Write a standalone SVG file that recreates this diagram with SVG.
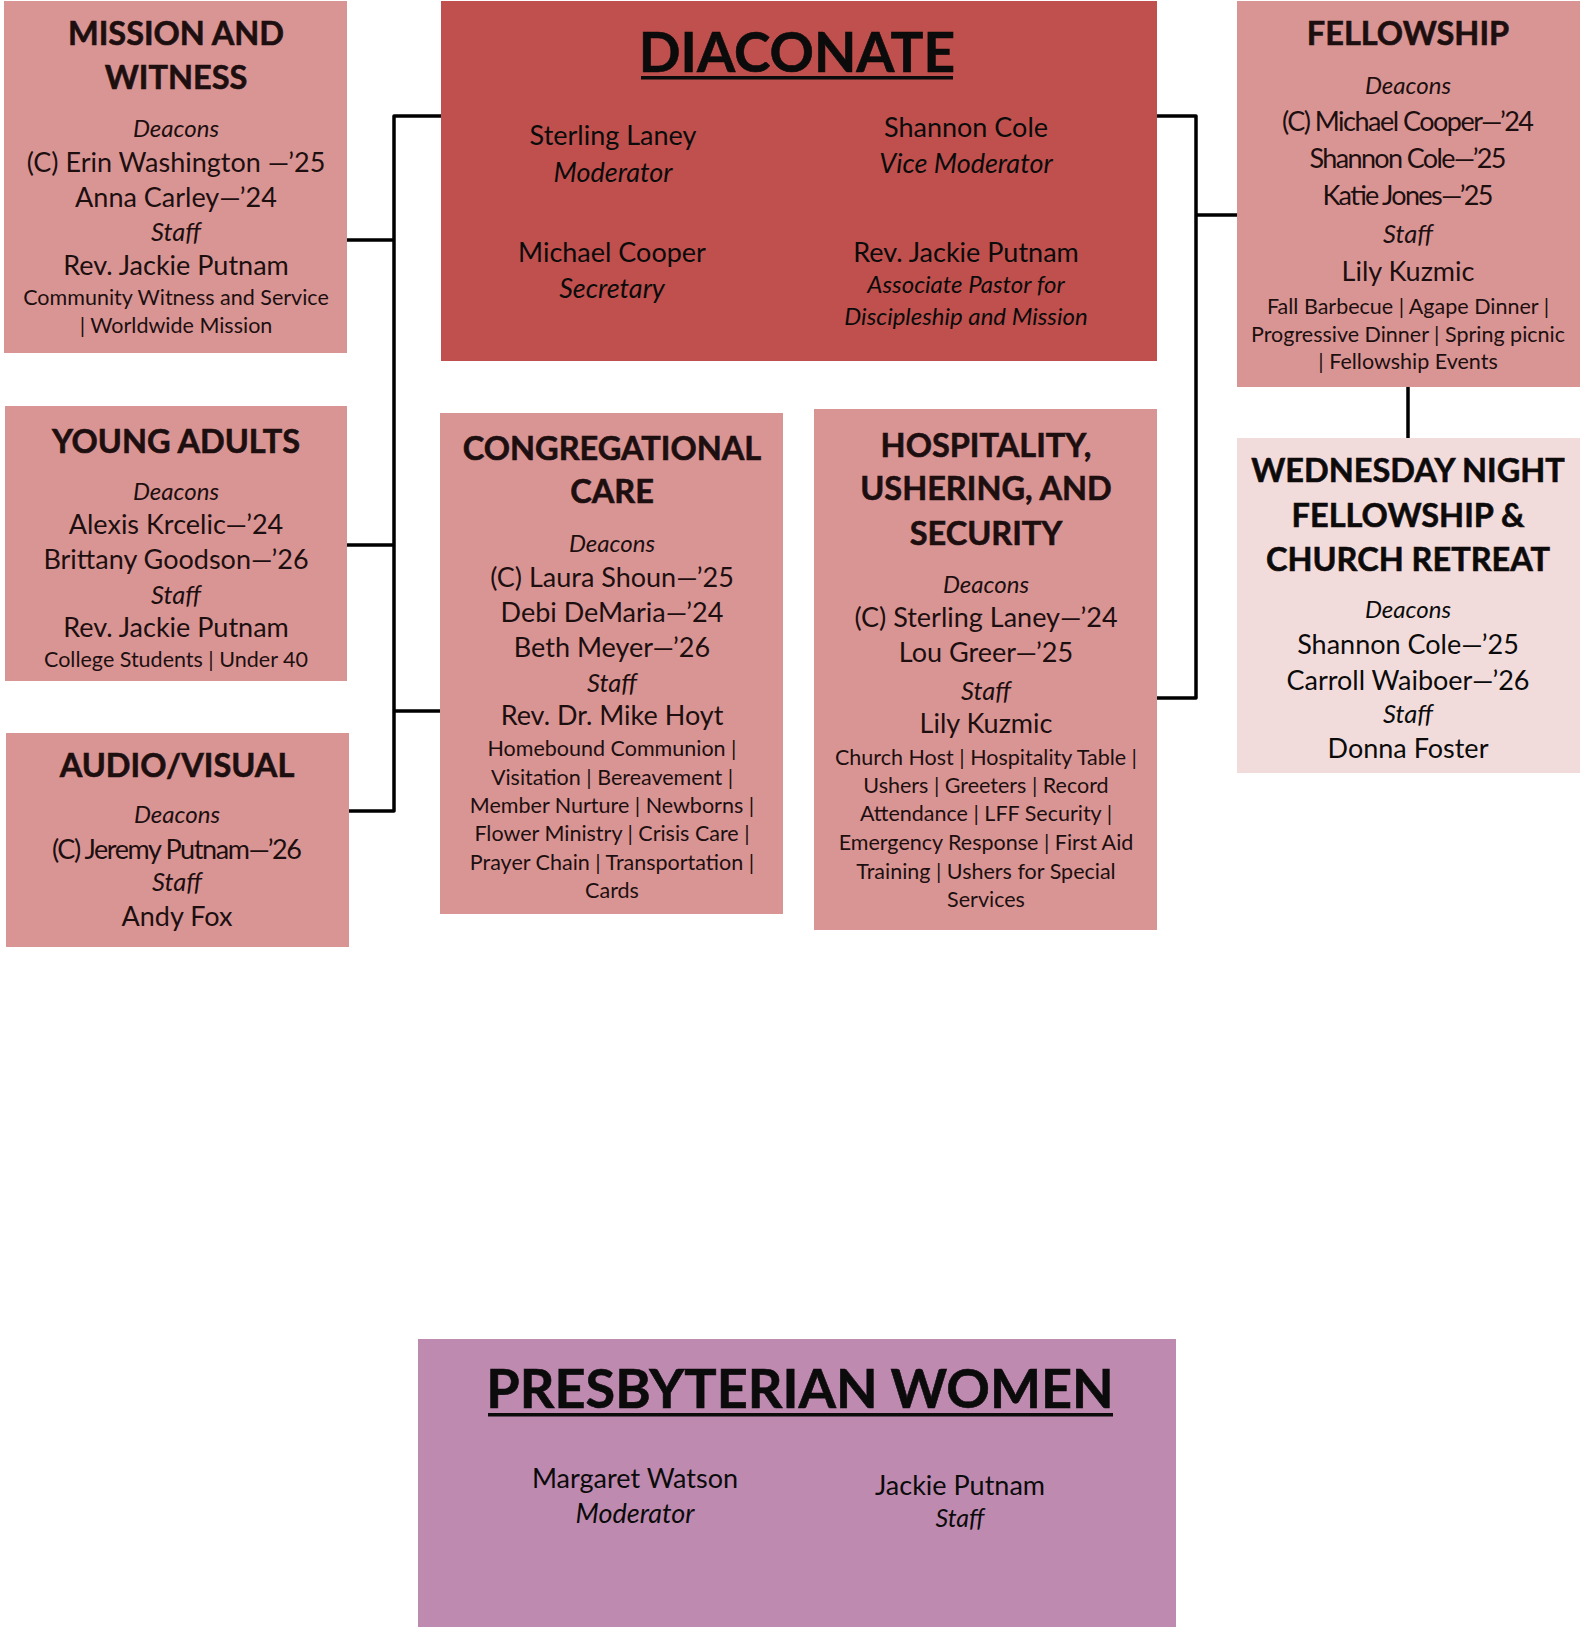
<svg xmlns="http://www.w3.org/2000/svg" width="1580" height="1627" viewBox="0 0 1580 1627">
<style>
text{font-family:Lato,"Open Sans","Liberation Sans",sans-serif;text-anchor:middle;fill:#1d0f10}
.t{font-weight:bold;font-size:32.5px;stroke:#1d0f10;stroke-width:0.6}
.b{font-size:27px}
.i{font-style:italic;font-size:24px}
.f{font-style:italic;font-size:25.5px}
.s{font-size:21.5px}
.d{fill:#0b0b0b}
.box{fill:#D99594}
.con{fill:none;stroke:#000;stroke-width:3.5;stroke-linejoin:round}
</style>
<rect width="1580" height="1627" fill="#fff"/>
<g id="connectors" class="con">
<path d="M347 240 H394 M441 116 H394 V811 H347 M347 545 H394 M394 711 H440"/>
<path d="M1157 116 H1196 V698 H1157 M1196 215 H1237"/>
<path d="M1408 387 V438"/>
</g>
<g id="mission">
<rect class="box" x="4" y="1" width="343" height="352"/>
<text class="t" x="176" y="45">MISSION AND</text>
<text class="t" x="176" y="89">WITNESS</text>
<text class="i" x="176" y="137">Deacons</text>
<text class="b" x="176" y="172">(C) Erin Washington —’25</text>
<text class="b" x="176" y="207">Anna Carley—’24</text>
<text class="f" x="176" y="241">Staff</text>
<text class="b" x="176" y="275">Rev. Jackie Putnam</text>
<text class="s" x="176" y="305">Community Witness and Service</text>
<text class="s" x="176" y="333">| Worldwide Mission</text>
</g>
<g id="diaconate">
<rect x="441" y="1" width="716" height="360" fill="#C0504D"/>
<text class="d" x="797" y="72" font-weight="bold" font-size="55" stroke="#0b0b0b" stroke-width="0.6">DIACONATE</text>
<rect x="641" y="76" width="312" height="3.5" fill="#0b0b0b"/>
<text class="d" x="613" y="145" font-size="27">Sterling Laney</text>
<text class="d" x="613" y="182" font-size="27" font-style="italic">Moderator</text>
<text class="d" x="966" y="137" font-size="27">Shannon Cole</text>
<text class="d" x="966" y="173" font-size="27" font-style="italic">Vice Moderator</text>
<text class="d" x="612" y="262" font-size="27">Michael Cooper</text>
<text class="d" x="612" y="298" font-size="27" font-style="italic">Secretary</text>
<text class="d" x="966" y="262" font-size="27">Rev. Jackie Putnam</text>
<text class="d" x="966" y="293" font-size="24" font-style="italic">Associate Pastor for</text>
<text class="d" x="966" y="325" font-size="24" font-style="italic">Discipleship and Mission</text>
</g>
<g id="fellowship">
<rect class="box" x="1237" y="1" width="343" height="386"/>
<text class="t" x="1408" y="45">FELLOWSHIP</text>
<text class="i" x="1408" y="94">Deacons</text>
<text class="b" x="1408" y="131" textLength="252" lengthAdjust="spacing">(C) Michael Cooper—’24</text>
<text class="b" x="1408" y="168" textLength="197" lengthAdjust="spacing">Shannon Cole—’25</text>
<text class="b" x="1408" y="205" textLength="171" lengthAdjust="spacing">Katie Jones—’25</text>
<text class="f" x="1408" y="243">Staff</text>
<text class="b" x="1408" y="281" font-size="28">Lily Kuzmic</text>
<text class="s" x="1408" y="314">Fall Barbecue | Agape Dinner |</text>
<text class="s" x="1408" y="342">Progressive Dinner | Spring picnic</text>
<text class="s" x="1408" y="369">| Fellowship Events</text>
</g>
<g id="young-adults">
<rect class="box" x="5" y="406" width="342" height="275"/>
<text class="t" x="176" y="453">YOUNG ADULTS</text>
<text class="i" x="176" y="500">Deacons</text>
<text class="b" x="176" y="534">Alexis Krcelic—’24</text>
<text class="b" x="176" y="569">Brittany Goodson—’26</text>
<text class="f" x="176" y="604">Staff</text>
<text class="b" x="176" y="637">Rev. Jackie Putnam</text>
<text class="s" x="176" y="667">College Students | Under 40</text>
</g>
<g id="audio-visual">
<rect class="box" x="6" y="733" width="343" height="214"/>
<text class="t" x="177" y="777">AUDIO/VISUAL</text>
<text class="i" x="177" y="823">Deacons</text>
<text class="b" x="177" y="859" textLength="250" lengthAdjust="spacing">(C) Jeremy Putnam—’26</text>
<text class="f" x="177" y="891">Staff</text>
<text class="b" x="177" y="926">Andy Fox</text>
</g>
<g id="congregational-care">
<rect class="box" x="440" y="413" width="343" height="501"/>
<text class="t" x="612" y="460">CONGREGATIONAL</text>
<text class="t" x="612" y="503">CARE</text>
<text class="i" x="612" y="552">Deacons</text>
<text class="b" x="612" y="587">(C) Laura Shoun—’25</text>
<text class="b" x="612" y="622">Debi DeMaria—’24</text>
<text class="b" x="612" y="657">Beth Meyer—’26</text>
<text class="f" x="612" y="692">Staff</text>
<text class="b" x="612" y="725">Rev. Dr. Mike Hoyt</text>
<text class="s" x="612" y="756">Homebound Communion |</text>
<text class="s" x="612" y="785">Visitation | Bereavement |</text>
<text class="s" x="612" y="813">Member Nurture | Newborns |</text>
<text class="s" x="612" y="841">Flower Ministry | Crisis Care |</text>
<text class="s" x="612" y="870">Prayer Chain | Transportation |</text>
<text class="s" x="612" y="898">Cards</text>
</g>
<g id="hospitality">
<rect class="box" x="814" y="409" width="343" height="521"/>
<text class="t" x="986" y="457">HOSPITALITY,</text>
<text class="t" x="986" y="500">USHERING, AND</text>
<text class="t" x="986" y="545">SECURITY</text>
<text class="i" x="986" y="593">Deacons</text>
<text class="b" x="986" y="627">(C) Sterling Laney—’24</text>
<text class="b" x="986" y="662">Lou Greer—’25</text>
<text class="f" x="986" y="700">Staff</text>
<text class="b" x="986" y="733" font-size="28">Lily Kuzmic</text>
<text class="s" x="986" y="765">Church Host | Hospitality Table |</text>
<text class="s" x="986" y="793">Ushers | Greeters | Record</text>
<text class="s" x="986" y="821">Attendance | LFF Security |</text>
<text class="s" x="986" y="850">Emergency Response | First Aid</text>
<text class="s" x="986" y="879">Training | Ushers for Special</text>
<text class="s" x="986" y="907">Services</text>
</g>
<g id="wednesday-night">
<rect x="1237" y="438" width="343" height="335" fill="#F2DCDB"/>
<text class="t d" x="1408" y="482" stroke="#0b0b0b">WEDNESDAY NIGHT</text>
<text class="t d" x="1408" y="527" stroke="#0b0b0b">FELLOWSHIP &amp;</text>
<text class="t d" x="1408" y="571" stroke="#0b0b0b">CHURCH RETREAT</text>
<text class="i d" x="1408" y="618">Deacons</text>
<text class="b d" x="1408" y="654">Shannon Cole—’25</text>
<text class="b d" x="1408" y="690">Carroll Waiboer—’26</text>
<text class="f d" x="1408" y="723">Staff</text>
<text class="b d" x="1408" y="758">Donna Foster</text>
</g>
<g id="presbyterian-women">
<rect x="418" y="1339" width="758" height="288" fill="#BF8AB0"/>
<text class="d" x="800" y="1408" font-weight="bold" font-size="54" stroke="#0b0b0b" stroke-width="0.6">PRESBYTERIAN WOMEN</text>
<rect x="488" y="1413" width="625" height="3.5" fill="#0b0b0b"/>
<text class="d" x="635" y="1488" font-size="27">Margaret Watson</text>
<text class="d" x="635" y="1523" font-size="27" font-style="italic">Moderator</text>
<text class="d" x="960" y="1495" font-size="27">Jackie Putnam</text>
<text class="d" x="960" y="1527" font-size="25" font-style="italic">Staff</text>
</g>
</svg>
